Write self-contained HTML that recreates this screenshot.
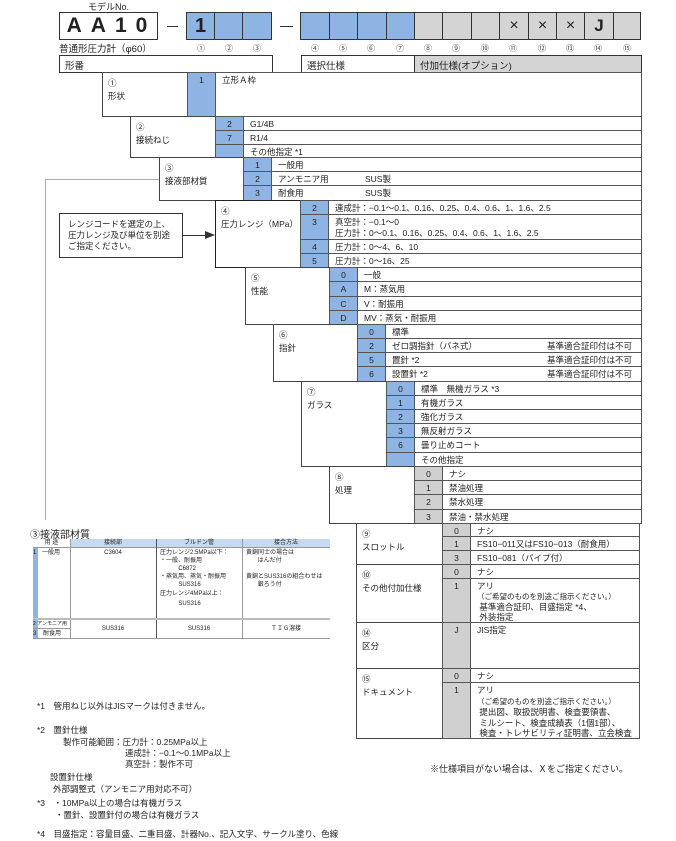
<!DOCTYPE html>
<html><head><meta charset="utf-8">
<style>
*{box-sizing:border-box;margin:0;padding:0}
body{width:676px;height:841px;background:#fff;position:relative;overflow:hidden;font-family:"Liberation Sans","Noto Sans CJK JP",sans-serif;font-size:8.5px;color:#222}
.a{position:absolute}
.lab{position:absolute;border:1px solid #444;padding:4px 0 0 5px;line-height:13px;background:#fff}
.row{position:absolute;border:1px solid #555;background:#fff;white-space:nowrap}
.row .c{position:absolute;left:0;top:0;bottom:0;width:28px;background:#8db4e2;border-right:1px solid #555;text-align:center;padding-top:2px}
.row.g .c{background:#d0d0d0}
.row .d{position:absolute;left:34px;top:2px;line-height:11px}
.tb{position:absolute;border:1px solid #333;text-align:center}
.bl{background:#8db4e2}
.gr{background:#d4d4d4}
.n{position:absolute;top:43px;font-size:8px;color:#444}
.t{position:absolute;white-space:nowrap}
.mt{font-size:6px;line-height:8px;white-space:nowrap}
</style></head><body>
<div class="t" style="left:88px;top:0;font-size:9px">モデルNo.</div>
<div class="tb" style="left:59px;top:12px;width:99px;height:28px;font-size:21px;font-weight:bold;line-height:26px;letter-spacing:9px;padding-left:6px">AA10</div>
<div class="a" style="left:167px;top:26px;width:11px;border-top:1px solid #333"></div>
<div class="tb bl" style="left:186px;top:12px;width:29px;height:28px;font-size:20px;font-weight:bold;line-height:26px">1</div>
<div class="tb bl" style="left:214px;top:12px;width:29px;height:28px"></div>
<div class="tb bl" style="left:242px;top:12px;width:30px;height:28px"></div>
<div class="a" style="left:280px;top:26px;width:13px;border-top:1px solid #333"></div>
<div class="tb bl" style="left:300px;top:12px;width:30px;height:28px"></div>
<div class="tb bl" style="left:329px;top:12px;width:29px;height:28px"></div>
<div class="tb bl" style="left:357px;top:12px;width:30px;height:28px"></div>
<div class="tb bl" style="left:386px;top:12px;width:29px;height:28px"></div>
<div class="tb gr" style="left:414px;top:12px;width:29px;height:28px"></div>
<div class="tb gr" style="left:442px;top:12px;width:30px;height:28px"></div>
<div class="tb gr" style="left:471px;top:12px;width:29px;height:28px"></div>
<div class="tb gr" style="left:499px;top:12px;width:30px;height:28px;font-size:16px;line-height:26px">×</div>
<div class="tb gr" style="left:528px;top:12px;width:29px;height:28px;font-size:16px;line-height:26px">×</div>
<div class="tb gr" style="left:556px;top:12px;width:29px;height:28px;font-size:16px;line-height:26px">×</div>
<div class="tb gr" style="left:584px;top:12px;width:30px;height:28px;font-size:17px;font-weight:bold;line-height:26px">J</div>
<div class="tb gr" style="left:613px;top:12px;width:28px;height:28px"></div>
<div class="t" style="left:59px;top:41px;font-size:9.5px">普通形圧力計（φ60）</div>
<div class="n" style="left:197px">①</div><div class="n" style="left:225px">②</div><div class="n" style="left:253px">③</div>
<div class="n" style="left:311px">④</div><div class="n" style="left:339px">⑤</div><div class="n" style="left:367px">⑥</div><div class="n" style="left:396px">⑦</div>
<div class="n" style="left:424px">⑧</div><div class="n" style="left:452px">⑨</div><div class="n" style="left:481px">⑩</div><div class="n" style="left:509px">⑪</div>
<div class="n" style="left:538px">⑫</div><div class="n" style="left:566px">⑬</div><div class="n" style="left:594px">⑭</div><div class="n" style="left:623px">⑮</div>
<div class="tb" style="left:59px;top:55px;width:214px;height:18px;text-align:left;padding:2px 5px;font-size:9.5px">形番</div>
<div class="tb" style="left:301px;top:55px;width:114px;height:18px;text-align:left;padding:2px 5px;font-size:9.5px">選択仕様</div>
<div class="tb gr" style="left:414px;top:55px;width:228px;height:18px;text-align:left;padding:2px 5px;font-size:9.5px">付加仕様(オプション)</div>

<div class="a" style="left:45px;top:179px;width:114px;border-top:1px solid #aaa"></div>
<div class="a" style="left:45px;top:179px;height:341px;border-left:1px solid #aaa"></div>

<div class="lab" style="left:102px;top:72px;width:86px;height:45px">①<br>形状</div>
<div class="row" style="left:187px;top:72px;width:455px;height:45px"><div class="c">1</div><div class="d">立形Ａ枠</div></div>
<div class="lab" style="left:130px;top:116px;width:86px;height:42px">②<br>接続ねじ</div>
<div class="row" style="left:215px;top:116px;width:427px;height:15px"><div class="c">2</div><div class="d">G1/4B</div></div>
<div class="row" style="left:215px;top:130px;width:427px;height:15px"><div class="c">7</div><div class="d">R1/4</div></div>
<div class="row" style="left:215px;top:144px;width:427px;height:14px"><div class="c"></div><div class="d">その他指定 *1</div></div>
<div class="lab" style="left:159px;top:157px;width:85px;height:44px">③<br>接液部材質</div>
<div class="row" style="left:243px;top:157px;width:399px;height:15px"><div class="c">1</div><div class="d">一般用</div></div>
<div class="row" style="left:243px;top:171px;width:399px;height:15px"><div class="c">2</div><div class="d">アンモニア用<span style="position:absolute;left:87px">SUS製</span></div></div>
<div class="row" style="left:243px;top:185px;width:399px;height:16px"><div class="c">3</div><div class="d">耐食用<span style="position:absolute;left:87px">SUS製</span></div></div>
<div class="a" style="left:59px;top:213px;width:124px;height:45px;border:1.5px solid #333;padding:5px 0 0 8px;line-height:11px;font-size:8.5px">レンジコードを選定の上、<br>圧力レンジ及び単位を別途<br>ご指定ください。</div>
<div class="a" style="left:183px;top:235px;width:24px;border-top:1.5px solid #333"></div>
<div class="a" style="left:205px;top:231px;width:0;height:0;border-left:10px solid #333;border-top:4px solid transparent;border-bottom:4px solid transparent"></div>
<div class="lab" style="left:215px;top:200px;width:86px;height:68px;border-color:#222">④<br>圧力レンジ（MPa）</div>
<div class="row" style="left:300px;top:200px;width:342px;height:15px"><div class="c">2</div><div class="d">連成計：−0.1〜0.1、0.16、0.25、0.4、0.6、1、1.6、2.5</div></div>
<div class="row" style="left:300px;top:214px;width:342px;height:26px"><div class="c">3</div><div class="d">真空計：−0.1〜0<br>圧力計：0〜0.1、0.16、0.25、0.4、0.6、1、1.6、2.5</div></div>
<div class="row" style="left:300px;top:239px;width:342px;height:15px"><div class="c">4</div><div class="d">圧力計：0〜4、6、10</div></div>
<div class="row" style="left:300px;top:253px;width:342px;height:15px"><div class="c">5</div><div class="d">圧力計：0〜16、25</div></div>
<div class="lab" style="left:245px;top:267px;width:85px;height:58px">⑤<br>性能</div>
<div class="row" style="left:329px;top:267px;width:313px;height:15px"><div class="c">0</div><div class="d">一般</div></div>
<div class="row" style="left:329px;top:281px;width:313px;height:16px"><div class="c">A</div><div class="d">M：蒸気用</div></div>
<div class="row" style="left:329px;top:296px;width:313px;height:15px"><div class="c">C</div><div class="d">V：耐振用</div></div>
<div class="row" style="left:329px;top:310px;width:313px;height:15px"><div class="c">D</div><div class="d">MV：蒸気・耐振用</div></div>
<div class="lab" style="left:273px;top:324px;width:85px;height:58px">⑥<br>指針</div>
<div class="row" style="left:357px;top:324px;width:285px;height:15px"><div class="c">0</div><div class="d">標準</div></div>
<div class="row" style="left:357px;top:338px;width:285px;height:15px"><div class="c">2</div><div class="d">ゼロ調指針（バネ式）<span style="position:absolute;left:155px">基準適合証印付は不可</span></div></div>
<div class="row" style="left:357px;top:352px;width:285px;height:15px"><div class="c">5</div><div class="d">置針 *2<span style="position:absolute;left:155px">基準適合証印付は不可</span></div></div>
<div class="row" style="left:357px;top:366px;width:285px;height:16px"><div class="c">6</div><div class="d">設置針 *2<span style="position:absolute;left:155px">基準適合証印付は不可</span></div></div>
<div class="lab" style="left:301px;top:381px;width:86px;height:86px">⑦<br>ガラス</div>
<div class="row" style="left:386px;top:381px;width:256px;height:15px"><div class="c">0</div><div class="d">標準　無機ガラス *3</div></div>
<div class="row" style="left:386px;top:395px;width:256px;height:15px"><div class="c">1</div><div class="d">有機ガラス</div></div>
<div class="row" style="left:386px;top:409px;width:256px;height:15px"><div class="c">2</div><div class="d">強化ガラス</div></div>
<div class="row" style="left:386px;top:423px;width:256px;height:15px"><div class="c">3</div><div class="d">無反射ガラス</div></div>
<div class="row" style="left:386px;top:437px;width:256px;height:16px"><div class="c">6</div><div class="d">曇り止めコート</div></div>
<div class="row" style="left:386px;top:452px;width:256px;height:15px"><div class="c"></div><div class="d">その他指定</div></div>
<div class="lab" style="left:329px;top:466px;width:86px;height:58px">⑧<br>処理</div>
<div class="row g" style="left:414px;top:466px;width:228px;height:15px"><div class="c">0</div><div class="d">ナシ</div></div>
<div class="row g" style="left:414px;top:480px;width:228px;height:15px"><div class="c">1</div><div class="d">禁油処理</div></div>
<div class="row g" style="left:414px;top:494px;width:228px;height:16px"><div class="c">2</div><div class="d">禁水処理</div></div>
<div class="row g" style="left:414px;top:509px;width:228px;height:15px"><div class="c">3</div><div class="d">禁油・禁水処理</div></div>
<div class="lab" style="left:356px;top:523px;width:87px;height:42px">⑨<br>スロットル</div>
<div class="row g" style="left:442px;top:523px;width:198px;height:14px"><div class="c">0</div><div class="d">ナシ</div></div>
<div class="row g" style="left:442px;top:536px;width:198px;height:15px"><div class="c">1</div><div class="d">FS10−011又はFS10−013（耐食用）</div></div>
<div class="row g" style="left:442px;top:550px;width:198px;height:15px"><div class="c">3</div><div class="d">FS10−081（パイプ付）</div></div>
<div class="lab" style="left:356px;top:564px;width:87px;height:59px">⑩<br>その他付加仕様</div>
<div class="row g" style="left:442px;top:564px;width:198px;height:15px"><div class="c">0</div><div class="d">ナシ</div></div>
<div class="row g" style="left:442px;top:578px;width:198px;height:45px"><div class="c">1</div><div class="d" style="line-height:10px">アリ<br><span style="font-size:7.5px">（ご希望のものを別途ご指示ください。）</span><br>&nbsp;基準適合証印、目盛指定 *4、<br>&nbsp;外装指定</div></div>
<div class="lab" style="left:356px;top:622px;width:87px;height:47px">⑭<br>区分</div>
<div class="row g" style="left:442px;top:622px;width:198px;height:47px"><div class="c">J</div><div class="d">JIS指定</div></div>
<div class="lab" style="left:356px;top:668px;width:87px;height:71px">⑮<br>ドキュメント</div>
<div class="row g" style="left:442px;top:668px;width:198px;height:15px"><div class="c">0</div><div class="d">ナシ</div></div>
<div class="row g" style="left:442px;top:682px;width:198px;height:57px"><div class="c">1</div><div class="d" style="line-height:10.5px">アリ<br><span style="font-size:7.5px">（ご希望のものを別途ご指示ください。）</span><br>&nbsp;提出図、取扱説明書、検査要領書、<br>&nbsp;ミルシート、検査成績表（1個1部）、<br>&nbsp;検査・トレサビリティ証明書、立会検査</div></div>
<div class="t" style="left:430px;top:762px;font-size:9px">※仕様項目がない場合は、Ｘをご指定ください。</div>

<div class="t" style="left:30px;top:526px;font-size:10px">③接液部材質</div>
<div class="a mt" style="left:33px;top:539px;width:297px;height:100px">
 <div class="a" style="left:0;top:0;width:37px;height:9px;text-align:center;border-bottom:1px solid #999">用 途</div>
 <div class="a" style="left:37px;top:0;width:260px;height:9px;background:#c5d9f1;border-bottom:1px solid #999"></div>
 <div class="a" style="left:37px;top:0;width:86px;text-align:center">接続部</div>
 <div class="a" style="left:123px;top:0;width:86px;text-align:center">ブルドン管</div>
 <div class="a" style="left:209px;top:0;width:88px;text-align:center">接合方法</div>
 <div class="a" style="left:37px;top:0;height:100px;border-left:1px solid #999"></div>
 <div class="a" style="left:123px;top:0;height:100px;border-left:1px solid #555"></div>
 <div class="a" style="left:209px;top:0;height:100px;border-left:1px solid #999"></div>
 <div class="a" style="left:0;top:9px;width:5px;height:70px;background:#8db4e2"></div>
 <div class="a" style="left:0;top:80px;width:5px;height:9px;background:#8db4e2"></div>
 <div class="a" style="left:0;top:90px;width:5px;height:9px;background:#8db4e2"></div>
 <div class="a" style="left:0;top:10px">1</div><div class="a" style="left:9px;top:10px">一般用</div>
 <div class="a" style="left:37px;top:10px;width:86px;text-align:center">C3604</div>
 <div class="a" style="left:127px;top:10px">圧力レンジ2.5MPa以下：<br>・一般、耐振用<br>&nbsp;&nbsp;&nbsp;&nbsp;&nbsp;&nbsp;&nbsp;&nbsp;&nbsp;&nbsp;&nbsp;C6872<br>・蒸気用、蒸気・耐振用<br>&nbsp;&nbsp;&nbsp;&nbsp;&nbsp;&nbsp;&nbsp;&nbsp;&nbsp;&nbsp;&nbsp;SUS316<br><span style="line-height:11px">圧力レンジ4MPa以上：</span><br>&nbsp;&nbsp;&nbsp;&nbsp;&nbsp;&nbsp;&nbsp;&nbsp;&nbsp;&nbsp;&nbsp;SUS316</div>
 <div class="a" style="left:213px;top:10px">黄銅同士の場合は<br>&nbsp;&nbsp;&nbsp;&nbsp;&nbsp;&nbsp;&nbsp;はんだ付<br><br>黄銅とSUS316の組合わせは<br>&nbsp;&nbsp;&nbsp;&nbsp;&nbsp;&nbsp;&nbsp;銀ろう付</div>
 <div class="a" style="left:0;top:79px;width:297px;border-top:2px solid #bbb"></div>
 <div class="a" style="left:0;top:89px;width:37px;border-top:1px solid #999"></div>
 <div class="a" style="left:0;top:99px;width:297px;border-top:1px solid #999"></div>
 <div class="a" style="left:0;top:81px;font-size:5px">2 アンモニア用</div>
 <div class="a" style="left:0;top:91px">3</div><div class="a" style="left:10px;top:91px">耐食用</div>
 <div class="a" style="left:37px;top:86px;width:86px;text-align:center">SUS316</div>
 <div class="a" style="left:123px;top:86px;width:86px;text-align:center">SUS316</div>
 <div class="a" style="left:209px;top:86px;width:88px;text-align:center">ＴＩＧ溶接</div>
</div>

<div style="position:absolute;left:37px;top:701px;font-size:8.5px;line-height:11.5px;white-space:nowrap">
<div class="t" style="left:0;top:0">*1　管用ねじ以外はJISマークは付きません。</div>
<div class="t" style="left:0;top:24px">*2　置針仕様</div>
<div class="t" style="left:26px;top:36px">製作可能範囲：圧力計：0.25MPa以上</div>
<div class="t" style="left:88px;top:47px">連成計：−0.1〜0.1MPa以上</div>
<div class="t" style="left:88px;top:58px">真空計：製作不可</div>
<div class="t" style="left:13px;top:71px">設置針仕様</div>
<div class="t" style="left:16px;top:83px">外部調整式（アンモニア用対応不可）</div>
<div class="t" style="left:0;top:97px">*3　・10MPa以上の場合は有機ガラス</div>
<div class="t" style="left:18px;top:109px">・置針、設置針付の場合は有機ガラス</div>
<div class="t" style="left:0;top:128px">*4　目盛指定：容量目盛、二重目盛、計器No.、記入文字、サークル塗り、色線</div>
</div>
</body></html>
